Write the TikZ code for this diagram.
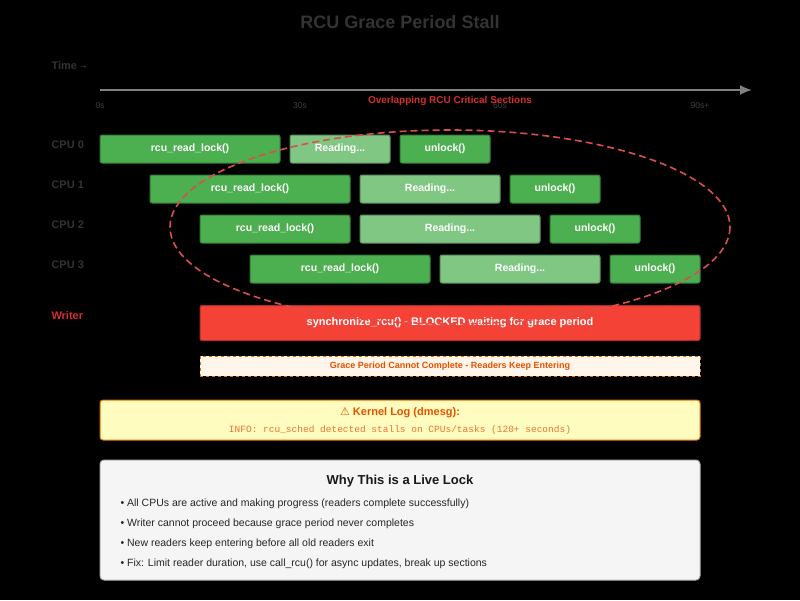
\documentclass[tikz,border=0pt]{standalone}
\usepackage{fontspec}
\usetikzlibrary{arrows.meta}
\setmainfont{Liberation Sans}
\newfontfamily\symf{DejaVu Sans}
\setmonofont{Liberation Mono}
\begin{document}
\begin{tikzpicture}[x=1pt,y=-1pt,
  box/.style={draw=#1!70!black, line width=1pt, rounded corners=2pt, text=white, font=\fontsize{10.5}{12}\selectfont\bfseries},
  lbl/.style={anchor=west, text=black!80, font=\fontsize{11}{12}\selectfont\bfseries},
  tick/.style={text=black!75, font=\fontsize{8.5}{10}\selectfont},
  bul/.style={anchor=west, text=black!85, font=\fontsize{10.5}{12}\selectfont}]
\definecolor{gA}{HTML}{4CAF50}\definecolor{gB}{HTML}{81C784}
\definecolor{rd}{HTML}{F44336}\definecolor{org}{HTML}{E65100}
\definecolor{dred}{HTML}{D32F2F}
\fill[black] (0,0) rectangle (800,600);
\useasboundingbox (0,0) rectangle (800,600);
\node[text=black!80, font=\fontsize{18}{20}\selectfont\bfseries] (title) at (400,22) {RCU Grace Period Stall};
\node[lbl] (time) at (48,66) {Time {\symf\mdseries\fontsize{8}{9}\selectfont →}};
\coordinate (a0) at (100,90); \coordinate (a1) at (752,90);
\draw[gray, line width=2pt, -{Latex[length=12pt,width=10pt]}] (a0) -- (a1);
\node[tick] (t0) at (100,106) {0s};
\node[tick] (t1) at (300,106) {30s};
\node[tick] (t2) at (500,106) {60s};
\node[tick] (t3) at (700,106) {90s+};
\node[text=dred, font=\fontsize{10}{11}\selectfont\bfseries] (ov) at (450,101) {Overlapping RCU Critical Sections};
\foreach \i/\y in {0/149,1/189,2/229,3/269}{\node[lbl] (c\i) at (48,\y-4) {CPU \i};}
\newcommand{\bx}[6]{\node[box=#5, fill=#5, minimum width=#2-#1, minimum height=28, inner sep=0] (#4) at ({(#1+#2)/2},#3) {#6};}
\bx{100}{280}{149}{r0}{gA}{rcu\_read\_lock()}
\bx{290}{390}{149}{d0}{gB}{Reading...}
\bx{400}{490}{149}{u0}{gA}{unlock()}
\bx{150}{350}{189}{r1}{gA}{rcu\_read\_lock()}
\bx{360}{500}{189}{d1}{gB}{Reading...}
\bx{510}{600}{189}{u1}{gA}{unlock()}
\bx{200}{350}{229}{r2}{gA}{rcu\_read\_lock()}
\bx{360}{540}{229}{d2}{gB}{Reading...}
\bx{550}{640}{229}{u2}{gA}{unlock()}
\bx{250}{430}{269}{r3}{gA}{rcu\_read\_lock()}
\bx{440}{600}{269}{d3}{gB}{Reading...}
\bx{610}{700}{269}{u3}{gA}{unlock()}
\node[lbl, text=dred] (wl) at (48,316) {Writer};
\node[box=rd, fill=rd, minimum width=500, minimum height=35, inner sep=0, font=\fontsize{11}{12}\selectfont\bfseries] (wr) at (450,323) {synchronize\_rcu() - BLOCKED waiting for grace period};
\node[draw=orange!90!black, dashed, line width=1pt, fill=orange!8, minimum width=500, minimum height=20, inner sep=0, text=org, font=\fontsize{9}{10}\selectfont\bfseries] (gp) at (450,366) {Grace Period Cannot Complete - Readers Keep Entering};
\draw[dred!85, line width=1.6pt, dash pattern=on 7pt off 4pt] (450,227) ellipse [x radius=280, y radius=97];
\node[draw=orange!90!black, line width=1pt, fill=yellow!25, rounded corners=3pt, minimum width=600, minimum height=40, inner sep=0] (kl) at (400,420) {};
\node[text=org, font=\fontsize{11}{12}\selectfont\bfseries] (klh) at (400,413) {{\symf\mdseries ⚠} Kernel Log (dmesg):};
\node[text=org!80, font=\fontsize{9.5}{11}\ttfamily] (klt) at (400,430) {INFO: rcu\_sched detected stalls on CPUs/tasks (120+ seconds)};
\node[draw=black!30, line width=1pt, fill=black!4, rounded corners=4pt, minimum width=600, minimum height=120, inner sep=0] (why) at (400,520) {};
\node[text=black!90, font=\fontsize{13}{15}\selectfont\bfseries] (wh) at (400,481) {Why This is a Live Lock};
\node[bul] (b1) at (117,504) {• All CPUs are active and making progress (readers complete successfully)};
\node[bul] (b2) at (117,524) {• Writer cannot proceed because grace period never completes};
\node[bul] (b3) at (117,544) {• New readers keep entering before all old readers exit};
\node[bul] (b4) at (117,564) {• Fix: Limit reader duration, use call\_rcu() for async updates, break up sections};
\end{tikzpicture}
\end{document}
